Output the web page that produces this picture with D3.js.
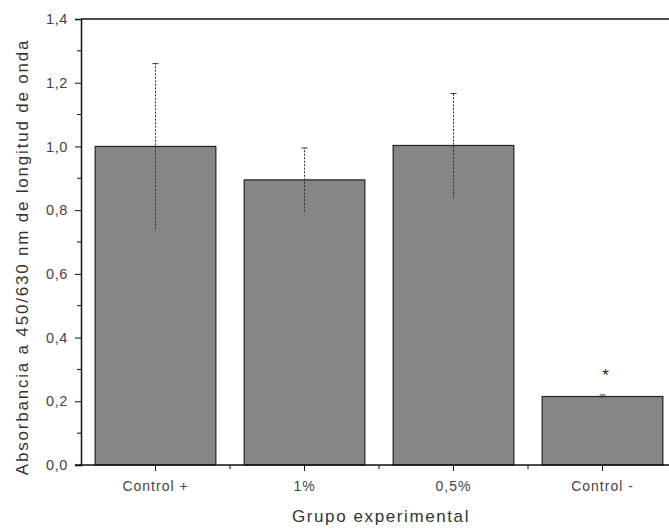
<!DOCTYPE html>
<html>
<head>
<meta charset="utf-8">
<script src="https://cdn.jsdelivr.net/npm/d3@7"></script>
<style>
  html, body { margin: 0; padding: 0; background: #fff; }
  svg { display: block; font-family: "Liberation Sans", Arial, sans-serif; }
</style>
</head>
<body>
<svg id="chart" width="669" height="532"></svg>
<script>
// Absorbance per experimental group (mean ± SD)
const categories = ["Control +", "1%", "0.5%", "Control -"];
const means = [1.0, 0.895, 1.003, 0.215];
const errors = [0.26, 0.1, 0.163, 0.005];
const significant = [false, false, false, true];
const yTicks = [0.0, 0.2, 0.4, 0.6, 0.8, 1.0, 1.2, 1.4];

const svg = d3.select("#chart");
const margin = { left: 81, top: 19, bottom: 67 };
const plotRight = 677;      // plot area runs slightly past the visible edge
const H = 532;

const x = d3.scaleBand()
  .domain(categories)
  .range([margin.left, plotRight])
  .paddingInner(0.19)
  .paddingOuter(0.095);

const y = d3.scaleLinear()
  .domain([0, 1.4])
  .range([H - margin.bottom, margin.top]);

const fmt = v => d3.format(".1f")(v).replace(".", ",");

// top frame line
svg.append("line")
  .attr("x1", margin.left).attr("x2", plotRight)
  .attr("y1", y(1.4)).attr("y2", y(1.4))
  .attr("stroke", "#111").attr("stroke-width", 1.5);

// bars
svg.append("g").selectAll("rect")
  .data(categories)
  .join("rect")
  .attr("x", d => x(d))
  .attr("width", x.bandwidth())
  .attr("y", (d, i) => y(means[i]))
  .attr("height", (d, i) => y(0) - y(means[i]))
  .attr("fill", "#868686")
  .attr("stroke", "#222")
  .attr("stroke-width", 1.2);

// error bars (symmetric, dotted)
const eb = svg.append("g");
categories.forEach((c, i) => {
  const cx = x(c) + x.bandwidth() / 2;
  eb.append("line")
    .attr("x1", cx).attr("x2", cx)
    .attr("y1", y(means[i] - errors[i])).attr("y2", y(means[i] + errors[i]))
    .attr("stroke", "#333").attr("stroke-width", 1)
    .attr("stroke-dasharray", "2,1.5");
  eb.append("line")
    .attr("x1", cx - 3).attr("x2", cx + 3)
    .attr("y1", y(means[i] + errors[i])).attr("y2", y(means[i] + errors[i]))
    .attr("stroke", "#333").attr("stroke-width", 1);
  if (significant[i]) {
    eb.append("text")
      .attr("x", cx + 3).attr("y", y(means[i] + errors[i]) - 14)
      .attr("text-anchor", "middle")
      .attr("font-size", 17)
      .attr("fill", "#222")
      .text("*");
  }
});

// y axis with minor ticks
const yAxis = d3.axisLeft(y).tickValues(yTicks).tickFormat(fmt).tickSize(6).tickPadding(7);
const gy = svg.append("g").attr("transform", `translate(${margin.left},0)`).call(yAxis);
gy.select(".domain").attr("stroke", "#111").attr("stroke-width", 1.5);
gy.selectAll(".tick line").attr("stroke", "#111");
gy.selectAll(".tick text")
  .attr("font-size", 14.5)
  .attr("letter-spacing", 0.6)
  .attr("fill", "#444");
const minorY = d3.range(0.1, 1.4, 0.2);
svg.append("g").selectAll("line").data(minorY).join("line")
  .attr("x1", margin.left - 4).attr("x2", margin.left)
  .attr("y1", d => y(d)).attr("y2", d => y(d))
  .attr("stroke", "#111");

// x axis: ticks at category centres plus minor ticks between groups
const gx = svg.append("g").attr("transform", `translate(0,${y(0)})`);
gx.append("line")
  .attr("x1", margin.left - 6).attr("x2", plotRight)
  .attr("stroke", "#111").attr("stroke-width", 1.5);
const step = x.step();
gx.selectAll(".maj").data(categories).join("line")
  .attr("x1", d => x(d) + x.bandwidth() / 2).attr("x2", d => x(d) + x.bandwidth() / 2)
  .attr("y1", 0).attr("y2", 6).attr("stroke", "#111");
gx.selectAll(".min").data(categories.slice(1)).join("line")
  .attr("x1", d => x(d) + x.bandwidth() / 2 - step / 2).attr("x2", d => x(d) + x.bandwidth() / 2 - step / 2)
  .attr("y1", 0).attr("y2", 4).attr("stroke", "#111");
gx.selectAll("text").data(categories).join("text")
  .attr("x", d => x(d) + x.bandwidth() / 2)
  .attr("y", 26)
  .attr("text-anchor", "middle")
  .attr("font-size", 14)
  .attr("letter-spacing", 1)
  .attr("fill", "#444")
  .text(d => d.replace(".", ","));

// axis titles
svg.append("text")
  .attr("x", 381).attr("y", 522)
  .attr("text-anchor", "middle")
  .attr("font-size", 17)
  .attr("letter-spacing", 1.6)
  .attr("fill", "#333")
  .text("Grupo experimental");

svg.append("text")
  .attr("transform", "translate(28,257) rotate(-90)")
  .attr("text-anchor", "middle")
  .attr("font-size", 17)
  .attr("letter-spacing", 1.8)
  .attr("fill", "#333")
  .text("Absorbancia a 450/630 nm de longitud de onda");
</script>
</body>
</html>
